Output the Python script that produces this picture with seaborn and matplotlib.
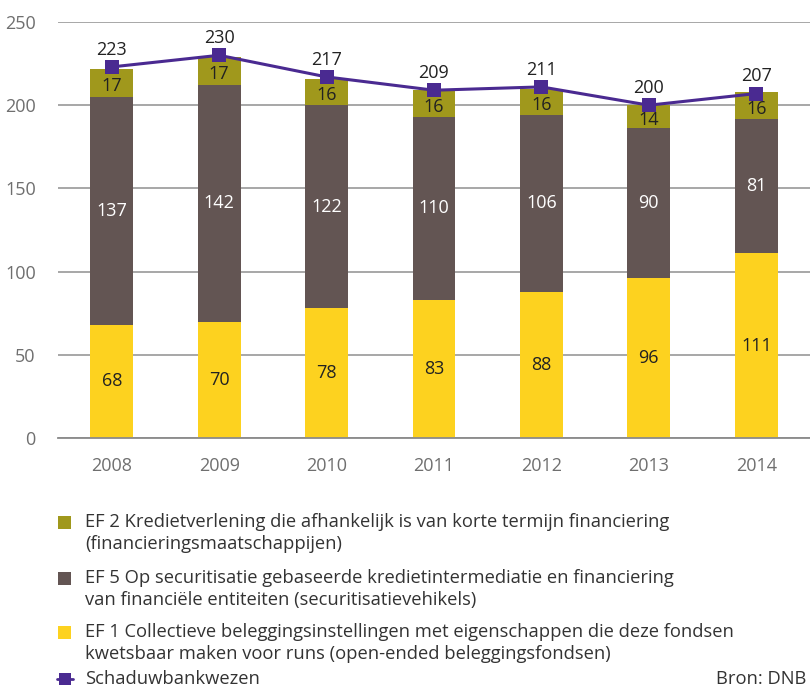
import numpy as np
import pandas as pd
import matplotlib
matplotlib.use("Agg")
import matplotlib.pyplot as plt
from matplotlib.patches import Rectangle
from matplotlib.lines import Line2D
import seaborn as sns

years = ["2008", "2009", "2010", "2011", "2012", "2013", "2014"]
ef1 = [68, 70, 78, 83, 88, 96, 111]
ef5 = [137, 142, 122, 110, 106, 90, 81]
ef2 = [17, 17, 16, 16, 16, 14, 16]
totaal = [223, 230, 217, 209, 211, 200, 207]

legend_labels = [
    "EF 2 Kredietverlening die afhankelijk is van korte termijn financiering\n(financieringsmaatschappijen)",
    "EF 5 Op securitisatie gebaseerde kredietintermediatie en financiering\nvan financiële entiteiten (securitisatievehikels)",
    "EF 1 Collectieve beleggingsinstellingen met eigenschappen die deze fondsen\nkwetsbaar maken voor runs (open-ended beleggingsfondsen)",
    "Schaduwbankwezen",
]
source = "Bron: DNB"

c_ef1 = "#FDD21F"
c_ef5 = "#635553"
c_ef2 = "#A0981C"
c_line = "#4A2A91"
grey = "#6f6f6f"

sns.set_theme(style="white")
plt.rcParams["font.family"] = ["Open Sans", "DejaVu Sans"]

fig = plt.figure(figsize=(8.1, 6.87), dpi=100)
ax = fig.add_axes([58/810, 1-438/687, 1-58/810, (438-22)/687])

df = pd.DataFrame({"jaar": years, "ef1": ef1, "ef5": ef5, "ef2": ef2, "tot": totaal})
bottom2 = [a + b for a, b in zip(ef1, ef5)]

sns.barplot(data=df, x="jaar", y="ef1", color=c_ef1, width=0.4, saturation=1, ax=ax, linewidth=0)
sns.barplot(data=df, x="jaar", y="ef5", color=c_ef5, width=0.4, saturation=1, ax=ax, bottom=df["ef1"], linewidth=0)
sns.barplot(data=df, x="jaar", y="ef2", color=c_ef2, width=0.4, saturation=1, ax=ax, bottom=bottom2, linewidth=0)

xs = np.arange(len(years))
sns.lineplot(x=xs, y=totaal, color=c_line, lw=2.2, marker="s", markersize=10,
             markeredgewidth=0, ax=ax, zorder=5)

fs = 13
for i in range(len(years)):
    ax.text(i, ef1[i] / 2, str(ef1[i]), ha="center", va="center", fontsize=fs, color="#222222", zorder=6)
    ax.text(i, ef1[i] + ef5[i] / 2, str(ef5[i]), ha="center", va="center", fontsize=fs, color="white", zorder=6)
    ax.text(i, bottom2[i] + ef2[i] / 2 - 2, str(ef2[i]), ha="center", va="center", fontsize=fs, color="#222222", zorder=6)
    ax.text(i, totaal[i] + 5, str(totaal[i]), ha="center", va="bottom", fontsize=fs, color="#222222", zorder=6)

ax.set_ylim(0, 250)
ax.set_xlim(-0.5, len(years) - 0.5)
ax.set_yticks([0, 50, 100, 150, 200, 250])
ax.yaxis.grid(True, color="#a0a0a0", lw=1.3)
ax.set_axisbelow(True)
for s in ["top", "right", "left"]:
    ax.spines[s].set_visible(False)
ax.spines["bottom"].set_color("#8a8a8a")
ax.spines["bottom"].set_linewidth(1.3)
ax.set_xlabel("")
ax.set_ylabel("")
ax.tick_params(axis="y", length=0, labelsize=13, labelcolor=grey, pad=16)
ax.tick_params(axis="x", which="major", length=0, labelsize=13, labelcolor=grey, pad=14)
ax.set_xticks(np.arange(-0.5, len(years)), minor=True)
ax.tick_params(axis="x", which="minor", length=15, width=1.3, color="#8a8a8a", direction="out")

# legend
lfs = 13.2
rows = [(522, c_ef2), (578, c_ef5), (632, c_ef1)]
for (ytop, col), lab in zip(rows, legend_labels[:3]):
    fig.patches.append(Rectangle((58/810, 1-(ytop+7)/687), 13/810, 13/687,
                                 transform=fig.transFigure, color=col, lw=0))
    fig.text(85/810, 1-(ytop-9)/687, lab, ha="left", va="top", fontsize=lfs,
             color="#333333", linespacing=1.3)
ly = 1 - 679/687
fig.lines.append(Line2D([57/810, 73/810], [ly, ly], transform=fig.transFigure,
                        color=c_line, lw=2))
fig.lines.append(Line2D([65/810], [ly], transform=fig.transFigure,
                        color=c_line, marker="s", markersize=8, markeredgewidth=0, lw=0))
fig.text(85/810, ly, legend_labels[3], ha="left", va="center", fontsize=lfs, color="#333333")
fig.text(806/810, ly, source, ha="right", va="center", fontsize=lfs, color="#333333")

fig.savefig("out.png", dpi=100)
